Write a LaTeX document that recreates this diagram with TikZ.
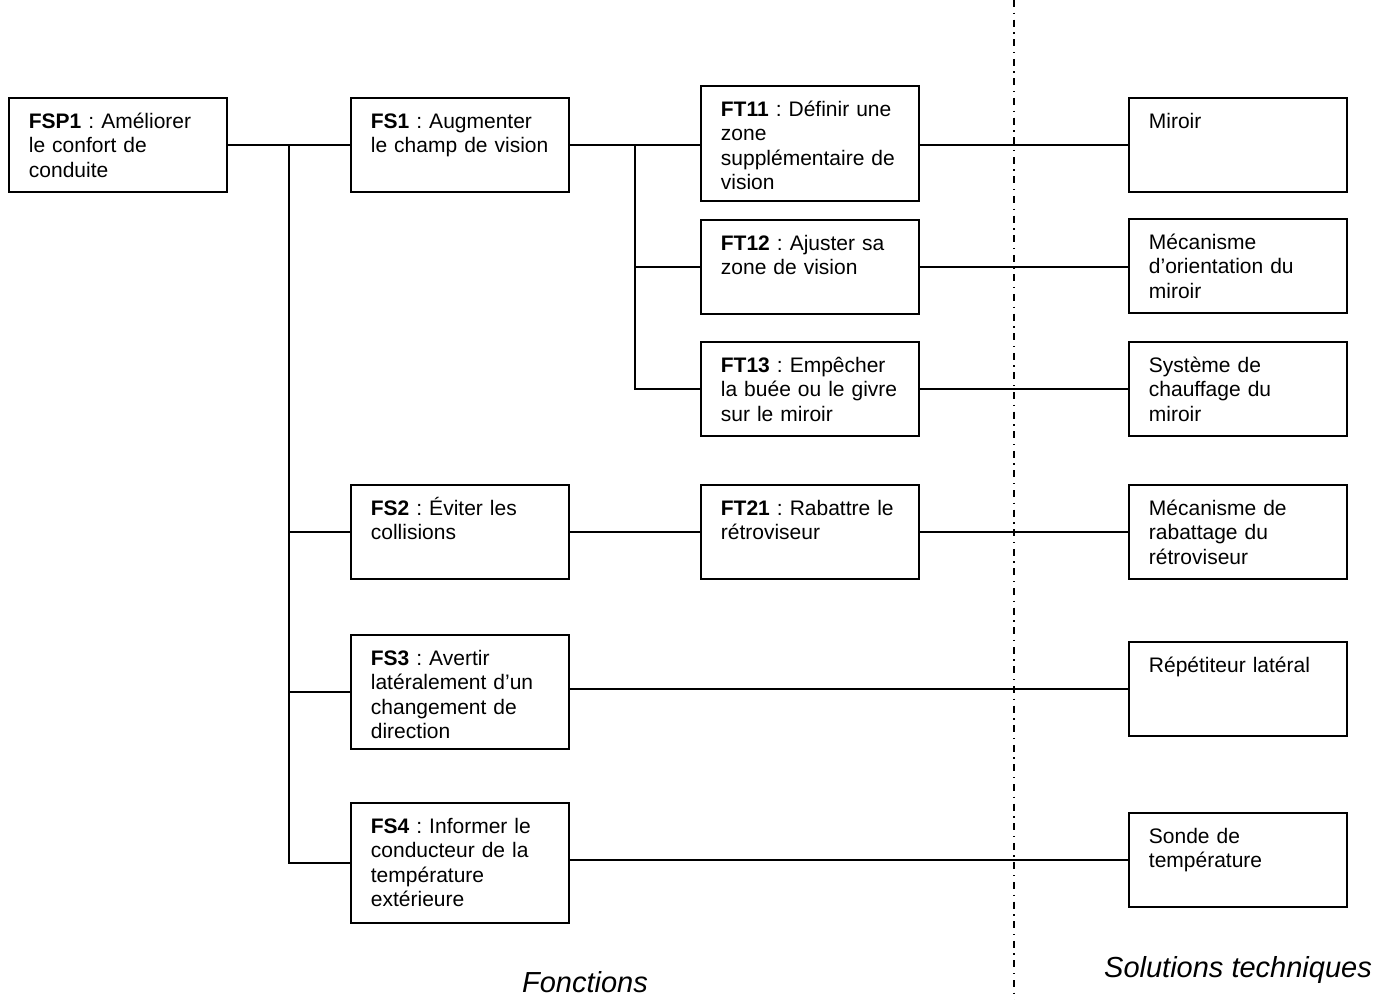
\documentclass[tikz,border=0pt]{standalone}
\usepackage{fontspec}
\setmainfont{Liberation Sans}
\frenchspacing

\tikzset{
	fbox/.style={draw, line width=0.9pt, anchor=north west, align=left,
		text width=89pt, inner xsep=10pt, inner ysep=4pt,
		text height=11.25pt, text depth=#1,
		font=\fontsize{10.5}{12.25}\selectfont},
	fbox/.default=27.75pt,
	link/.style={line width=0.75pt},
	sepline/.style={line width=0.6pt, dash pattern=on 3.5pt off 2.8pt on 0.7pt off 2.8pt},
	legend/.style={font=\fontsize{14.5}{17}\selectfont\itshape}
}

\begin{document}
\begin{tikzpicture}[x=0.5pt,y=-0.5pt]
		\useasboundingbox (0,0) rectangle (1392,1000);
		% fonctions
		\node[fbox] (fsp1) at (8,97) {\textbf{FSP1} : Améliorer\\le confort de\\conduite};
		\node[fbox] (fs1) at (350,97) {\textbf{FS1} : Augmenter\\le champ de vision};
		\node[fbox] (fs2) at (350,484) {\textbf{FS2} : Éviter les\\collisions};
		\node[fbox=37.75pt] (fs3) at (350,634) {\textbf{FS3} : Avertir\\latéralement d’un\\changement de\\direction};
		\node[fbox=40.75pt] (fs4) at (350,802) {\textbf{FS4} : Informer le\\conducteur de la\\température\\extérieure};
		\node[fbox=38.25pt] (ft11) at (700,85) {\textbf{FT11} : Définir une\\zone\\supplémentaire de\\vision};
		\node[fbox] (ft12) at (700,219) {\textbf{FT12} : Ajuster sa\\zone de vision};
		\node[fbox] (ft13) at (700,341) {\textbf{FT13} : Empêcher\\la buée ou le givre\\sur le miroir};
		\node[fbox] (ft21) at (700,484) {\textbf{FT21} : Rabattre le\\rétroviseur};
		% solutions techniques
		\node[fbox] (miroir) at (1128,97) {Miroir};
		\node[fbox] (orient) at (1128,218) {Mécanisme\\d’orientation du\\miroir};
		\node[fbox] (chauf) at (1128,341) {Système de\\chauffage du\\miroir};
		\node[fbox] (rabat) at (1128,484) {Mécanisme de\\rabattage du\\rétroviseur};
		\node[fbox] (repet) at (1128,641) {Répétiteur latéral};
		\node[fbox] (sonde) at (1128,812) {Sonde de\\température};
		% liaisons
		\draw[link] (fsp1.east) -- coordinate (trunk) (fs1.west);
		\draw[link] (trunk) |- (fs2.west);
		\draw[link] (trunk) |- (fs3.west);
		\draw[link] (trunk) |- (fs4.west);
		\draw[link] (fs1.east) -- coordinate (branch) (fs1.east -| ft11.west);
		\draw[link] (branch) |- (ft12.west);
		\draw[link] (branch) |- (ft13.west);
		\draw[link] (ft11.east |- miroir.west) -- (miroir.west);
		\draw[link] (ft12.east) -- (ft12.east -| orient.west);
		\draw[link] (ft13.east) -- (chauf.west);
		\draw[link] (fs2.east) -- (ft21.west);
		\draw[link] (ft21.east) -- (rabat.west);
		\draw[link] (fs3.east |- repet.west) -- (repet.west);
		\draw[link] (fs4.east |- sonde.west) -- (sonde.west);
		% separation
		\draw[sepline] (1014,0) -- (1014,1000);
		\node[legend] (fonct) at (585,982) {Fonctions};
		\node[legend] (soltech) at (1238,970) {Solutions techniques};
	\end{tikzpicture}
\end{document}
